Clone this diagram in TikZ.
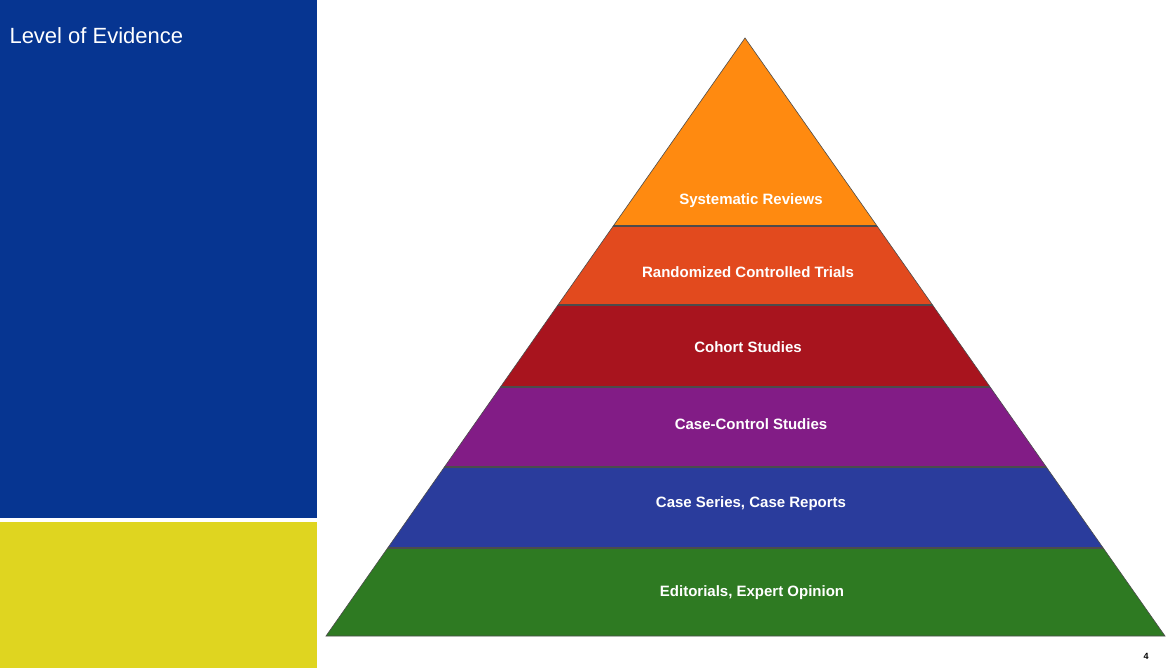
\documentclass[tikz,border=0pt]{standalone}
\usepackage{fontspec}
\setmainfont{Liberation Sans}
\begin{document}
\begin{tikzpicture}[x=1pt,y=-1pt,
  lbl/.style={text=white,font=\bfseries\fontsize{15}{17}\selectfont},
  band/.style={draw=black!70,line width=0.6pt}]
\definecolor{cblue}{HTML}{063591}
\definecolor{cyel}{HTML}{DFD520}
\definecolor{l1}{HTML}{FF8A10}
\definecolor{l2}{HTML}{E24A1E}
\definecolor{l3}{HTML}{A8141E}
\definecolor{l4}{HTML}{821C86}
\definecolor{l5}{HTML}{2A3C9C}
\definecolor{l6}{HTML}{2E7A22}
\useasboundingbox (0,0) rectangle (1169,668);
\fill[white] (0,0) rectangle (1169,668);
\fill[cblue] (0,0) rectangle (317,518);
\fill[cyel] (0,522) rectangle (317,668);
\node[anchor=north west,text=white,font=\fontsize{22}{26}\selectfont] (title) at (6,24) {Level of Evidence};
\begin{scope}
\clip (745,38) -- (1165,636) -- (326,636) -- cycle;
\fill[l1] (300,30) rectangle (1169,226);
\fill[l2] (300,226) rectangle (1169,305);
\fill[l3] (300,305) rectangle (1169,387);
\fill[l4] (300,387) rectangle (1169,467);
\fill[l5] (300,467) rectangle (1169,548);
\fill[l6] (300,548) rectangle (1169,640);
\foreach \y in {226,305,387,467,548} \draw[black!70,line width=1.2pt] (300,\y) -- (1169,\y);
\end{scope}
\draw[band] (745,38) -- (1165,636) -- (326,636) -- cycle;
\node[lbl] (t1) at (751,201) {Systematic Reviews};
\node[lbl] (t2) at (748,272) {Randomized Controlled Trials};
\node[lbl] (t3) at (748,347) {Cohort Studies};
\node[lbl] (t4) at (751,424) {Case-Control Studies};
\node[lbl] (t5) at (751,504) {Case Series, Case Reports};
\node[lbl] (t6) at (752,593) {Editorials, Expert Opinion};
\node[font=\bfseries\small] (pg) at (1146,656) {4};
\end{tikzpicture}
\end{document}
